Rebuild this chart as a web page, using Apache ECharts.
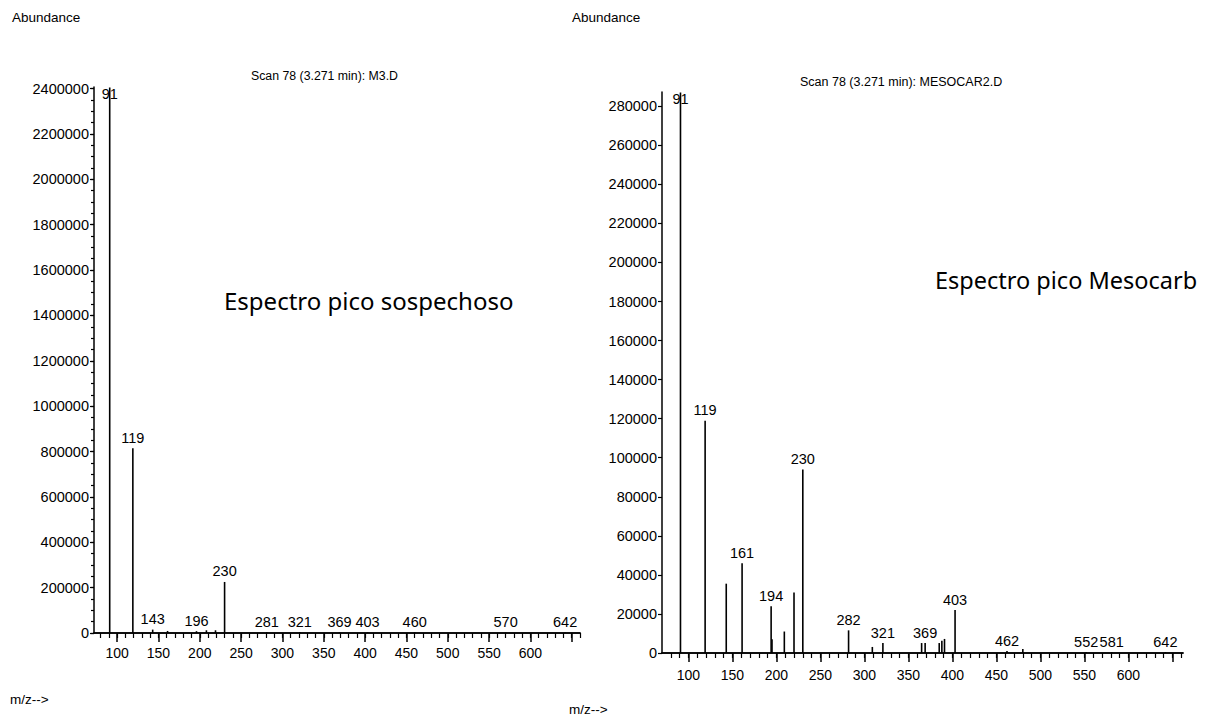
<!DOCTYPE html>
<html>
<head>
<meta charset="utf-8" />
<script src="https://cdn.jsdelivr.net/npm/echarts@6/dist/echarts.min.js"></script>
<style>html,body{margin:0;padding:0;background:#fff}#chart{width:1207px;height:719px}</style>
</head>
<body>
<div id="chart"></div>
<script>
// left spectrum (suspicious peak)
var leftMz     = [91, 119, 143, 161, 196, 208, 219, 230, 281, 321, 369, 403, 460, 570, 642];
var leftAbund  = [2405000, 815000, 15000, 9000, 8000, 12000, 12000, 225000, 4000, 4000, 3000, 3000, 3000, 2000, 2000];
var leftLabels = [91, 119, 143, 196, 230, 281, 321, 369, 403, 460, 570, 642];

// right spectrum (Mesocarb)
var rightMz     = [91, 119, 143, 161, 194, 195, 209, 220, 230, 282, 309, 321, 365, 369, 385, 388, 391, 403, 462, 480, 552, 581, 642];
var rightAbund  = [287000, 119000, 35500, 46000, 24000, 7000, 11000, 31000, 94000, 11600, 3100, 5100, 5100, 5100, 5100, 6300, 7200, 22000, 1000, 2000, 500, 500, 500];
var rightLabels = [91, 119, 161, 194, 230, 282, 321, 369, 403, 462, 552, 581, 642];

var xTickLabels = [100, 150, 200, 250, 300, 350, 400, 450, 500, 550, 600];
var xMajorTicks = [100, 150, 200, 250, 300, 350, 400, 450, 500, 550, 600, 650];
var leftYTicks  = [0, 200000, 400000, 600000, 800000, 1000000, 1200000, 1400000, 1600000, 1800000, 2000000, 2200000, 2400000];
var rightYTicks = [0, 20000, 40000, 60000, 80000, 100000, 120000, 140000, 160000, 180000, 200000, 220000, 240000, 260000, 280000];

var minorX = [];
for (var v = 80; v <= 660; v += 10) minorX.push(v);
var minorLeftY = [];
for (var w = 0; w <= 2400000; w += 50000) minorLeftY.push(w);

var FONT = '"Liberation Sans", Arial, sans-serif';
var black = '#000';

function peaks(mz, ab, labels) {
    return mz.map(function (m, i) {
        var lab = labels.indexOf(m) >= 0;
        var item = {value: [m, ab[i]]};
        item.label = {show: lab};
        if (lab && i === 0) item.label.offset = [0, 17];
        return item;
    });
}

function xAxes(grid, min, max, margin) {
    return [{
        type: 'value', gridIndex: grid, position: 'bottom', min: min, max: max,
        axisLine: {onZero: false, lineStyle: {color: black, width: 1.5}},
        axisTick: {customValues: minorX, length: 5, lineStyle: {color: black, width: 1.2}},
        axisLabel: {show: false},
        splitLine: {show: false}
    }, {
        type: 'value', gridIndex: grid, position: 'bottom', offset: 0, min: min, max: max,
        axisLine: {onZero: false, lineStyle: {color: black, width: 1.5}},
        axisTick: {customValues: xMajorTicks, length: 9, lineStyle: {color: black, width: 1.5}},
        axisLabel: {customValues: xTickLabels, color: black, fontFamily: FONT, fontSize: 14, margin: margin},
        splitLine: {show: false}
    }];
}

var chart = echarts.init(document.getElementById('chart'), null, {renderer: 'svg'});
chart.setOption({
    backgroundColor: '#fff',
    animation: false,
    grid: [
        {left: 94, right: 627, top: 87, bottom: 86},
        {left: 662, right: 24, top: 92, bottom: 66}
    ],
    xAxis: xAxes(0, 72, 660, 13).concat(xAxes(1, 70, 662, 15)),
    yAxis: [{
        type: 'value', gridIndex: 0, position: 'left', min: 0, max: 2407000,
        axisLine: {show: true, onZero: false, lineStyle: {color: black, width: 1.5}},
        axisTick: {show: true, customValues: leftYTicks, length: 4, lineStyle: {color: black, width: 1.2}},
        axisLabel: {customValues: leftYTicks, color: black, fontFamily: FONT, fontSize: 14.5, margin: 5,
            formatter: function (v) { return String(v); }},
        splitLine: {show: false}
    }, {
        type: 'value', gridIndex: 0, position: 'left', offset: 0, min: 0, max: 2407000,
        axisLine: {show: false, onZero: false},
        axisTick: {show: true, customValues: minorLeftY, length: 3, lineStyle: {color: black, width: 1.2}},
        axisLabel: {show: false},
        splitLine: {show: false}
    }, {
        type: 'value', gridIndex: 1, position: 'left', min: 0, max: 287300,
        axisLine: {show: true, onZero: false, lineStyle: {color: black, width: 1.5}},
        axisTick: {show: true, customValues: rightYTicks, length: 4, lineStyle: {color: black, width: 1.2}},
        axisLabel: {customValues: rightYTicks, color: black, fontFamily: FONT, fontSize: 14.5, margin: 5,
            formatter: function (v) { return String(v); }},
        splitLine: {show: false}
    }],
    series: [{
        type: 'bar', xAxisIndex: 0, yAxisIndex: 0, barWidth: 1.6,
        itemStyle: {color: black},
        label: {position: 'top', distance: 3, color: black, fontFamily: FONT, fontSize: 14.5,
            formatter: function (p) { return String(p.value[0]); }},
        data: peaks(leftMz, leftAbund, leftLabels)
    }, {
        type: 'bar', xAxisIndex: 2, yAxisIndex: 2, barWidth: 1.6,
        itemStyle: {color: black},
        label: {position: 'top', distance: 3, color: black, fontFamily: FONT, fontSize: 14.5,
            formatter: function (p) { return String(p.value[0]); }},
        data: peaks(rightMz, rightAbund, rightLabels)
    }],
    graphic: [
        {type: 'text', left: 12, top: 10, style: {text: 'Abundance', font: '13.5px ' + FONT, fill: black}},
        {type: 'text', left: 572, top: 10, style: {text: 'Abundance', font: '13.5px ' + FONT, fill: black}},
        {type: 'text', left: 251, top: 70, style: {text: 'Scan 78 (3.271 min): M3.D', font: '12.3px ' + FONT, fill: black}},
        {type: 'text', left: 800, top: 75, style: {text: 'Scan 78 (3.271 min): MESOCAR2.D', font: '12.5px ' + FONT, fill: black}},
        {type: 'text', left: 224, top: 288, style: {text: 'Espectro pico sospechoso', font: '24px "Noto Sans", sans-serif', fill: black}},
        {type: 'text', left: 935, top: 268, style: {text: 'Espectro pico Mesocarb', font: '23.5px "Noto Sans", sans-serif', fill: black}},
        {type: 'text', left: 10, top: 692, style: {text: 'm/z-->', font: '13.5px ' + FONT, fill: black}},
        {type: 'text', left: 569, top: 702, style: {text: 'm/z-->', font: '13.5px ' + FONT, fill: black}}
    ]
});
</script>
</body>
</html>
